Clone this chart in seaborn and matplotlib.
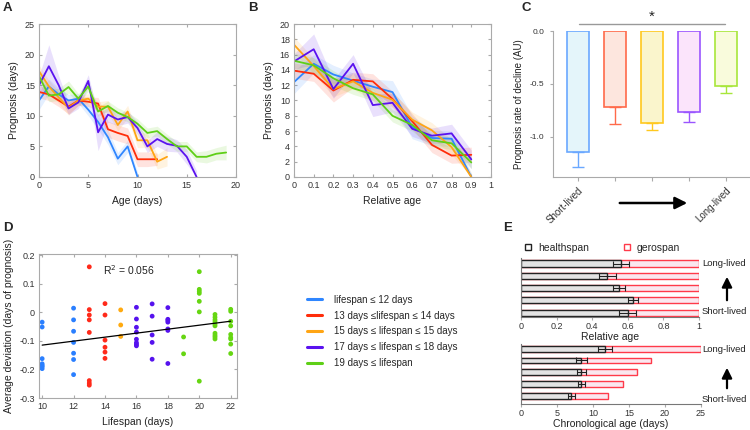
import numpy as np
import pandas as pd
import matplotlib
matplotlib.use("Agg")
import matplotlib.pyplot as plt
from matplotlib.lines import Line2D
from matplotlib.patches import FancyArrowPatch
import seaborn as sns

# ---- data ----
groups = ["lifespan \u2264 12 days", "13 days \u2264lifespan \u2264 14 days",
          "15 days \u2264 lifespan \u2264 15 days", "17 days \u2264 lifespan \u2264 18 days",
          "19 days \u2264 lifespan"]
colors = ["#2f86ff", "#ff2d0a", "#ffa514", "#5a12ef", "#5ecf16"]

# panel A: prognosis vs age (days)
a_blue = [12.5, 14.8, 13.5, 12.5, 12.8, 11.0, 9.0, 6.5, 3.0, 5.0, 0.0]
a_red = [13.9, 13.5, 12.5, 11.5, 12.5, 12.3, 12.0, 7.8, 7.2, 6.7, 2.9, 2.9, 2.9]
a_orange = [17.3, 14.8, 13.0, 11.3, 12.5, 12.8, 11.5, 11.5, 8.5, 10.7, 6.0, 6.0, 2.5, 3.3]
a_purple = [15.0, 18.1, 15.0, 11.2, 12.2, 15.7, 7.3, 10.2, 9.4, 9.8, 8.0, 5.0, 6.2, 5.4, 5.1, 3.3, 0.0]
a_green = [16.5, 13.3, 13.5, 14.7, 12.8, 14.8, 10.7, 11.6, 10.5, 9.8, 8.7, 7.2, 7.5, 6.2,
           5.0, 5.0, 3.3, 3.3, 3.8, 4.0]
a_blue_se = [1.5, 1.2, 1.0, 1.0, 0.8, 1.0, 1.2, 1.2, 1.0, 1.0, 0.8]
a_red_se = [1.0, 1.0, 1.0, 1.2, 0.8, 0.8, 1.0, 1.3, 1.3, 1.3, 1.2, 1.2, 1.0]
a_orange_se = [1.0, 1.0, 1.0, 1.2, 0.8, 0.8, 0.8, 1.0, 1.0, 1.0, 1.2, 1.2, 1.2, 1.5]
a_purple_se = [1.5, 3.5, 1.5, 1.0, 1.0, 1.0, 3.0, 1.2, 1.0, 1.0, 1.0, 1.0, 1.2, 1.2, 1.0, 1.2, 1.0]
a_green_se = [1.2, 1.0, 1.0, 1.0, 0.8, 0.8, 0.8, 0.8, 0.8, 0.8, 0.8, 0.8, 0.8, 0.8,
              0.8, 0.8, 0.8, 1.0, 1.0, 1.2]

# panel B: prognosis vs relative age
rel_age = [0.0, 0.1, 0.2, 0.3, 0.4, 0.5, 0.6, 0.7, 0.8, 0.9]
b_blue = [12.4, 14.8, 13.4, 12.6, 11.8, 11.1, 6.5, 5.1, 5.0, 0.0]
b_red = [13.9, 13.5, 11.3, 12.7, 12.5, 10.2, 7.3, 4.2, 2.8, 2.9]
b_orange = [17.3, 14.5, 11.5, 12.5, 11.0, 10.1, 7.5, 6.1, 3.9, 0.0]
b_purple = [15.1, 16.7, 11.5, 14.8, 9.4, 9.7, 6.3, 5.4, 5.7, 2.3]
b_green = [15.2, 14.6, 12.9, 11.6, 10.8, 8.0, 6.8, 4.8, 4.4, 1.9]
b_blue_se = [1.5, 1.2, 1.2, 1.0, 1.0, 1.5, 1.5, 1.0, 1.0, 0.5]
b_red_se = [1.0, 1.0, 1.5, 1.0, 1.0, 1.0, 1.0, 1.0, 1.0, 1.0]
b_orange_se = [1.0, 1.0, 1.0, 1.0, 1.0, 1.0, 1.0, 1.0, 1.0, 0.5]
b_purple_se = [1.0, 2.0, 1.2, 1.2, 1.5, 1.2, 1.0, 1.0, 1.2, 1.2]
b_green_se = [1.0, 1.0, 1.0, 0.8, 0.8, 0.8, 0.8, 0.8, 0.8, 0.8]

# panel C: rate of decline
c_groups = ["Short-lived", "g2", "g3", "g4", "Long-lived"]
c_rate = [-1.14, -0.72, -0.87, -0.77, -0.52]
c_err = [0.15, 0.16, 0.07, 0.09, 0.07]
c_edge = ["#6aa8ff", "#ff6a4a", "#ffc81e", "#9a55ff", "#a8e63a"]
c_face = ["#e4f5fa", "#fde6de", "#faf5cc", "#fbe4fb", "#f9fbdc"]

# panel D: average deviation vs lifespan
d_points = {
    10: [-0.034, -0.051, -0.162, -0.180, -0.186, -0.190, -0.197],
    12: [0.015, -0.026, -0.066, -0.105, -0.143, -0.165, -0.218],
    13: [0.160, 0.010, -0.009, -0.026, -0.070, -0.239, -0.248, -0.255],
    14: [0.031, -0.009, -0.097, -0.122, -0.139, -0.161],
    15: [0.009, -0.044, -0.084],
    16: [0.018, -0.023, -0.052, -0.069, -0.094, -0.106, -0.112, -0.117],
    17: [0.030, -0.013, -0.079, -0.105, -0.164],
    18: [0.017, -0.024, -0.028, -0.034, -0.058, -0.063, -0.179],
    19: [-0.086, -0.145],
    20: [0.143, 0.081, 0.074, 0.067, 0.039, 0.002, -0.241],
    21: [-0.007, -0.017, -0.026, -0.033, -0.041, -0.047, -0.073, -0.080, -0.086, -0.093],
    22: [0.011, 0.004, -0.031, -0.047, -0.077, -0.088, -0.093, -0.111, -0.144],
}
d_colors = ["#2a7fff", "#ff2a1a", "#ffaa10", "#5512ee", "#66d612"]

# panel E: healthspan / gerospan (top row = long-lived)
e_rows = ["Long-lived", "r2", "r3", "r4", "Short-lived"]
e_rel_health = [0.56, 0.485, 0.55, 0.63, 0.60]
e_rel_err = [0.045, 0.047, 0.035, 0.03, 0.047]
e_days_health = [11.7, 8.4, 8.4, 8.4, 7.0]
e_days_err = [1.0, 0.8, 0.6, 0.5, 0.5]
e_days_total = [25.0, 18.1, 16.1, 14.1, 12.1]

# ---- style ----
sns.set_style("ticks")
plt.rcParams["font.family"] = ["Liberation Sans", "DejaVu Sans"]
plt.rcParams["axes.edgecolor"] = "#aaaaaa"
plt.rcParams["axes.linewidth"] = 0.8
plt.rcParams["xtick.color"] = "#aaaaaa"
plt.rcParams["ytick.color"] = "#aaaaaa"
plt.rcParams["xtick.labelcolor"] = "#333333"
plt.rcParams["ytick.labelcolor"] = "#333333"
plt.rcParams["xtick.labelsize"] = 6.5
plt.rcParams["ytick.labelsize"] = 6.5
plt.rcParams["axes.labelsize"] = 7.5
plt.rcParams["axes.labelcolor"] = "#222222"
plt.rcParams["xtick.major.size"] = 2.5
plt.rcParams["ytick.major.size"] = 2.5

W, H = 750, 430
fig = plt.figure(figsize=(7.5, 4.3), dpi=100)


def box(x0, y0, x1, y1):
    return [x0 / W, 1 - y1 / H, (x1 - x0) / W, (y1 - y0) / H]


def inner_ticks(ax):
    ax.tick_params(direction="in", top=True, right=True, length=2.5, pad=3)


def lines_with_bands(ax, xs_list, ys_list, se_list):
    rows = []
    for g, xs, ys in zip(groups, xs_list, ys_list):
        for x, y in zip(xs, ys):
            rows.append({"x": x, "y": y, "group": g})
    df = pd.DataFrame(rows)
    for xs, ys, se, c in zip(xs_list, ys_list, se_list, colors):
        ys = np.array(ys)
        se = np.array(se)
        ax.fill_between(xs, np.clip(ys - se, 0, None), ys + se, color=c, alpha=0.13, lw=0)
    sns.lineplot(data=df, x="x", y="y", hue="group", palette=colors, lw=1.3,
                 ax=ax, legend=False, errorbar=None)


# ---- A ----
axA = fig.add_axes(box(39, 24, 236, 177))
ages = [list(range(len(s))) for s in [a_blue, a_red, a_orange, a_purple, a_green]]
lines_with_bands(axA, ages, [a_blue, a_red, a_orange, a_purple, a_green],
                 [a_blue_se, a_red_se, a_orange_se, a_purple_se, a_green_se])
axA.set_xlim(0, 20)
axA.set_ylim(0, 25)
axA.set_xticks([0, 5, 10, 15, 20])
axA.set_yticks([0, 5, 10, 15, 20, 25])
axA.set_xlabel("Age (days)")
axA.set_ylabel("Prognosis (days)")
inner_ticks(axA)

# ---- B ----
axB = fig.add_axes(box(294, 24, 491, 177))
lines_with_bands(axB, [rel_age] * 5, [b_blue, b_red, b_orange, b_purple, b_green],
                 [b_blue_se, b_red_se, b_orange_se, b_purple_se, b_green_se])
axB.set_xlim(0, 1)
axB.set_ylim(0, 20)
axB.set_xticks(np.arange(0, 1.01, 0.1))
axB.set_xticklabels(["0", "0.1", "0.2", "0.3", "0.4", "0.5", "0.6", "0.7", "0.8", "0.9", "1"])
axB.set_yticks(range(0, 21, 2))
axB.set_xlabel("Relative age")
axB.set_ylabel("Prognosis (days)")
inner_ticks(axB)

# ---- C ----
axC = fig.add_axes(box(553, 31, 749, 177))
dfc = pd.DataFrame({"group": c_groups, "rate": c_rate})
sns.barplot(data=dfc, x="group", y="rate", width=0.6, ax=axC)
for p, fc, ec in zip(axC.patches, c_face, c_edge):
    p.set_facecolor(fc)
    p.set_edgecolor(ec)
    p.set_linewidth(1.2)
for i, (v, e, ec) in enumerate(zip(c_rate, c_err, c_edge)):
    axC.errorbar(i, v, yerr=[[e], [0]], color=ec, capsize=4, lw=1.0, capthick=1.0)
axC.set_xlim(-0.68, 4.63)
axC.set_ylim(-1.38, 0)
axC.set_yticks([0, -0.5, -1.0])
axC.set_yticklabels(["0.0", "-0.5", "-1.0"])
axC.tick_params(axis="y", labelsize=6)
axC.set_xticks(range(5))
axC.set_xticklabels(["Short-lived", "", "", "", "Long-lived"], rotation=45,
                    ha="right", rotation_mode="anchor", fontsize=7)
axC.set_xlabel("")
axC.set_ylabel("Prognosis rate of decline (AU)", fontsize=7)
for s in ["top", "right"]:
    axC.spines[s].set_visible(False)
axC.tick_params(axis="x", length=3, pad=3)
fig.add_artist(Line2D([579 / W, 725 / W], [1 - 24 / H, 1 - 24 / H], color="#999999", lw=1.0))
fig.text(652 / W, 1 - 17 / H, "*", ha="center", va="center", fontsize=11, color="#222222")
fig.add_artist(FancyArrowPatch(
    (617 / W, 1 - 203 / H), (690 / W, 1 - 203 / H), transform=fig.transFigure,
    arrowstyle="-|>,head_length=0.6,head_width=0.3", mutation_scale=12, color="black", lw=1.8))

# ---- D ----
axD = fig.add_axes(box(39, 254, 237, 398))
bins = [(10, 12), (13, 14), (15, 15), (16, 18), (19, 22)]
rows = []
for ls, vals in d_points.items():
    for v in vals:
        g = [k for k, (lo, hi) in enumerate(bins) if lo <= ls <= hi][0]
        rows.append({"lifespan": ls, "dev": v, "group": groups[g]})
dfd = pd.DataFrame(rows)
sns.scatterplot(data=dfd, x="lifespan", y="dev", hue="group", palette=d_colors,
                s=12, linewidth=0, ax=axD, legend=False)
sns.regplot(data=dfd, x="lifespan", y="dev", scatter=False, ci=None, ax=axD,
            line_kws={"color": "black", "lw": 0.9})
axD.set_xlim(9.8, 22.4)
axD.set_ylim(-0.3, 0.205)
axD.set_xticks(range(10, 23, 2))
axD.set_yticks([0.2, 0.1, 0, -0.1, -0.2, -0.3])
axD.set_yticklabels(["0.2", "0.1", "0", "-0.1", "-0.2", "-0.3"])
axD.set_xlabel("Lifespan (days)")
axD.set_ylabel("Average deviation (days of prognosis)")
axD.text(13.9, 0.15, "R$^2$ = 0.056", fontsize=7.5, va="center", color="#222222")
inner_ticks(axD)

# legend for A/B/D
handles = [Line2D([], [], color=c, lw=2.2) for c in colors]
fig.legend(handles, groups, loc="upper left", bbox_to_anchor=(298 / W, 1 - 286 / H),
           frameon=False, fontsize=7, handlelength=1.6, handletextpad=1.2,
           labelspacing=0.6)


# ---- E ----
def spans(ax, health, total, err, ylim):
    sns.barplot(x=total, y=e_rows, orient="h", width=0.5, ax=ax,
                color="#fde4ef", edgecolor="#ff3a4a", linewidth=1.0)
    ax.barh(range(5), health, height=0.5, color="#e3e3e3", edgecolor="#222222", lw=1.0)
    ax.errorbar(health, range(5), xerr=err, fmt="none", ecolor="#222222",
                capsize=2, lw=0.8, capthick=0.8)
    ax.set_ylim(*ylim)
    ax.set_yticks([])
    ax.set_ylabel("")
    for s in ["top", "right"]:
        ax.spines[s].set_visible(False)
    ax.spines["left"].set_color("#777777")
    ax.spines["bottom"].set_color("#777777")
    ax.tick_params(axis="x", labelsize=6.5, length=2, pad=1.5)


axE1 = fig.add_axes(box(521, 258, 699, 317))
spans(axE1, e_rel_health, [1.0] * 5, e_rel_err, (4.35, -0.45))
axE1.set_xlim(0, 1)
axE1.set_xticks([0, 0.2, 0.4, 0.6, 0.8, 1])
axE1.set_xticklabels(["0", "0.2", "0.4", "0.6", "0.8", "1"])
axE1.set_xlabel("Relative age", labelpad=1)
leg_h = [Line2D([], [], marker="s", ls="", markerfacecolor="white", markeredgecolor="#222222", ms=4),
         Line2D([], [], marker="s", ls="", markerfacecolor="white", markeredgecolor="#ff3a4a", ms=4)]
axE1.legend(leg_h, ["healthspan", "gerospan"], loc="lower left", bbox_to_anchor=(-0.02, 1.0),
            ncol=2, frameon=False, fontsize=7.5, handletextpad=0.5, columnspacing=3.1,
            borderaxespad=0.1, handlelength=1.0)

axE2 = fig.add_axes(box(521, 344, 701, 404))
spans(axE2, e_days_health, e_days_total, e_days_err, (4.7, -0.4))
axE2.set_xlim(0, 25)
axE2.set_xticks([0, 5, 10, 15, 20, 25])
axE2.set_xlabel("Chronological age (days)", labelpad=1)

for y_long, y_short, a0, a1 in [(263, 312, 303, 274), (350, 399, 391, 365)]:
    fig.text(702 / W, 1 - y_long / H, "Long-lived", fontsize=6.8, va="center", color="#222222")
    fig.text(702 / W, 1 - y_short / H, "Short-lived", fontsize=6.8, va="center", color="#222222")
    fig.add_artist(FancyArrowPatch(
        (727 / W, 1 - a0 / H), (727 / W, 1 - a1 / H), transform=fig.transFigure,
        arrowstyle="-|>,head_length=0.6,head_width=0.3", mutation_scale=10,
        color="black", lw=1.6))

# panel letters
for lab, x, y in [("A", 3, 8), ("B", 248, 8), ("C", 521, 8), ("D", 3, 228), ("E", 503, 228)]:
    fig.text(x / W, 1 - y / H, lab, fontsize=9.5, fontweight="bold", va="center")

fig.savefig("out.png", dpi=100)
